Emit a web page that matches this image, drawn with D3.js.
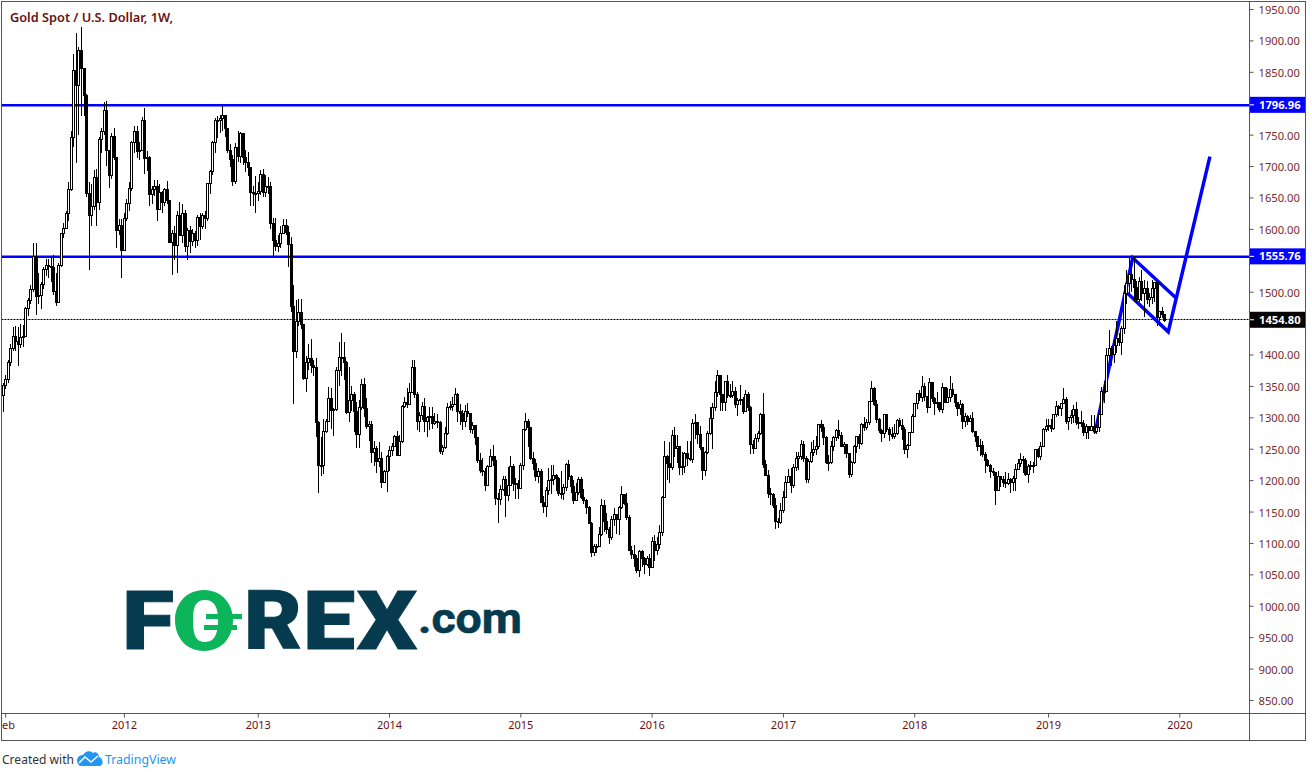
<!DOCTYPE html>
<html>
<head>
<meta charset="utf-8">
<title>Gold Spot / U.S. Dollar, 1W</title>
<script src="https://cdn.jsdelivr.net/npm/d3@7"></script>
<style>
  html, body { margin: 0; padding: 0; background: #fff; overflow: hidden; }
  svg { display: block; }
  .price-label { font: 11.2px "Noto Sans", sans-serif; fill: #7a2a2a; }
  .time-label { font: 11px "Noto Sans", sans-serif; fill: #6b1010; }
</style>
</head>
<body>
<svg id="chart" width="1312" height="777"></svg>
<script>
// Weekly candles. Week 0 is the bar of 31 Jan 2011.
const firstOpen = 1335;

const closes = [
  1350,1360,1388,1409,1429,1420,1416,1427,1429,1474,1486,1504,1556,1492,1494,1512,1536,1542,1540,1539,1500,1483,1542,1592,1601,1625,1663,1746,1852,1829,1884,1856,1813,1657,1622,1636,1682,1642,1742,1755,1788,1724,1685,1747,1713,1598,1605,1565,
  1617,1640,1665,1737,1755,1723,1725,1773,1712,1713,1655,1662,1668,1631,1658,1642,1663,1645,1579,1592,1573,1622,1590,1625,1572,1597,1580,1592,1582,1618,1603,1621,1616,1672,1691,1738,1772,1772,1776,1780,1759,1725,1710,1676,1730,1715,1752,1713,1705,1697,1658,1657,1656,
  1660,1687,1658,1667,1667,1609,1581,1572,1576,1592,1606,1595,1575,1476,1405,1453,1467,1447,1361,1387,1393,1383,1380,1292,1224,1223,1278,1293,1330,1311,1312,1374,1395,1396,1387,1308,1326,1337,1309,1272,1315,1352,1314,1285,1288,1244,1250,1230,1235,1197,1213,1237,
  1247,1254,1270,1240,1262,1318,1324,1321,1339,1379,1336,1294,1303,1318,1293,1300,1302,1290,1293,1292,1245,1252,1274,1316,1317,1320,1337,1310,1306,1294,1309,1306,1280,1287,1268,1231,1216,1214,1192,1222,1238,1231,1171,1169,1185,1201,1175,1191,1222,1195,1195,1187,
  1223,1280,1293,1283,1234,1227,1205,1213,1164,1158,1183,1199,1201,1207,1203,1179,1178,1188,1225,1206,1190,1168,1180,1201,1173,1168,1157,1131,1085,1095,1094,1113,1160,1134,1121,1108,1137,1145,1137,1156,1177,1163,1141,1088,1081,1076,1056,1086,1075,1065,1076,1061,
  1103,1088,1097,1117,1173,1238,1227,1220,1271,1250,1253,1220,1222,1243,1235,1233,1290,1291,1272,1252,1215,1244,1275,1298,1316,1340,1366,1337,1323,1357,1335,1335,1341,1320,1327,1328,1310,1337,1316,1257,1251,1267,1275,1304,1225,1208,1178,1177,1159,1134,1133,1152,
  1172,1196,1205,1191,1220,1234,1237,1257,1234,1201,1229,1244,1249,1254,1288,1284,1268,1228,1228,1254,1268,1279,1271,1253,1257,1242,1209,1228,1254,1269,1258,1289,1284,1291,1325,1346,1320,1297,1279,1274,1304,1280,1272,1269,1275,1295,1287,1281,1248,1255,1276,1302,
  1322,1338,1332,1349,1333,1315,1356,1330,1322,1324,1313,1347,1323,1332,1345,1336,1323,1314,1320,1293,1302,1294,1298,1278,1270,1254,1255,1241,1231,1223,1214,1212,1184,1206,1201,1196,1194,1201,1196,1203,1217,1226,1233,1232,1209,1222,1223,1223,1248,1238,1254,1280,1285,
  1287,1282,1304,1318,1314,1322,1328,1294,1299,1303,1313,1292,1291,1290,1276,1286,1279,1285,1277,1283,1305,1341,1341,1399,1409,1400,1415,1426,1419,1441,1497,1513,1527,1520,1507,1488,1517,1497,1505,1488,1490,1505,1514,1459,1468,1463,1454.8
];

const highs = [
  1355,1368,1391,1416,1444,1445,1444,1448,1447,1476,1490,1510,1577,1577,1530,1516,1540,1552,1552,1557,1558,1529,1545,1594,1610,1628,1675,1755,1878,1912,1890,1921,1830,1815,1675,1672,1693,1695,1746,1760,1802,1804,1724,1753,1761,1715,1615,1615,
  1625,1648,1675,1740,1764,1764,1738,1778,1792,1724,1716,1668,1678,1678,1672,1660,1665,1676,1645,1598,1605,1628,1642,1640,1630,1602,1605,1600,1596,1622,1625,1625,1628,1672,1694,1740,1776,1779,1781,1796,1769,1755,1735,1718,1737,1755,1754,1750,1725,1723,1697,1668,1684,
  1675,1694,1695,1685,1683,1675,1617,1618,1590,1605,1616,1615,1605,1587,1510,1487,1488,1488,1449,1398,1416,1424,1392,1395,1294,1268,1297,1298,1348,1347,1315,1380,1420,1434,1420,1390,1380,1350,1340,1325,1327,1361,1362,1330,1294,1294,1262,1254,1261,1245,1216,1240,
  1255,1259,1272,1279,1272,1319,1332,1346,1355,1392,1391,1340,1308,1325,1331,1302,1316,1316,1307,1306,1294,1256,1285,1322,1326,1332,1346,1339,1321,1312,1320,1322,1306,1293,1277,1269,1243,1235,1219,1224,1250,1256,1238,1180,1193,1207,1207,1221,1238,1225,1204,1200,
  1227,1282,1307,1298,1284,1245,1233,1219,1217,1175,1189,1220,1224,1224,1209,1205,1214,1194,1228,1232,1208,1200,1196,1205,1205,1186,1170,1159,1133,1098,1098,1126,1170,1168,1147,1125,1143,1156,1141,1159,1191,1178,1180,1144,1095,1097,1081,1088,1088,1078,1080,1082,
  1110,1112,1110,1128,1175,1263,1240,1261,1280,1284,1272,1255,1245,1244,1262,1263,1298,1306,1291,1286,1253,1247,1279,1316,1322,1358,1375,1360,1337,1358,1367,1353,1358,1349,1331,1352,1332,1344,1340,1318,1264,1274,1278,1307,1338,1232,1216,1187,1180,1172,1140,1163,
  1182,1207,1217,1220,1226,1245,1244,1264,1263,1238,1233,1261,1264,1270,1289,1295,1290,1270,1240,1262,1270,1281,1296,1277,1260,1257,1242,1230,1256,1270,1274,1291,1300,1298,1326,1358,1348,1327,1299,1281,1306,1306,1285,1284,1290,1298,1299,1298,1284,1258,1277,1306,
  1323,1338,1344,1366,1354,1334,1362,1357,1332,1340,1325,1355,1345,1347,1365,1354,1337,1323,1327,1322,1307,1304,1303,1309,1279,1262,1265,1262,1245,1234,1226,1220,1198,1214,1206,1207,1213,1211,1204,1207,1225,1233,1243,1238,1236,1226,1230,1229,1250,1251,1261,1283,1298,
  1298,1298,1306,1326,1319,1323,1347,1333,1300,1311,1320,1324,1301,1310,1296,1289,1286,1303,1304,1287,1306,1348,1358,1411,1439,1413,1425,1453,1434,1445,1510,1535,1555,1546,1557,1517,1524,1535,1519,1517,1498,1518,1516,1516,1470,1475,1465
];

const lows = [
  1308,1345,1355,1381,1405,1406,1382,1410,1412,1430,1462,1480,1500,1463,1480,1473,1505,1525,1522,1515,1495,1478,1482,1540,1585,1600,1612,1660,1730,1705,1750,1780,1780,1650,1535,1604,1630,1604,1630,1720,1750,1700,1665,1680,1710,1570,1590,1522,
  1592,1612,1628,1660,1720,1713,1709,1725,1688,1692,1636,1640,1652,1613,1640,1625,1636,1640,1578,1527,1550,1530,1588,1578,1563,1550,1562,1573,1569,1572,1582,1600,1600,1613,1656,1686,1720,1745,1752,1755,1746,1721,1698,1668,1672,1707,1705,1702,1690,1684,1636,1636,1625,
  1645,1654,1651,1650,1655,1600,1554,1565,1563,1570,1598,1590,1539,1467,1321,1395,1446,1441,1359,1340,1376,1371,1366,1269,1180,1207,1209,1275,1310,1282,1271,1310,1350,1366,1360,1306,1293,1310,1277,1251,1251,1311,1300,1282,1263,1227,1222,1211,1221,1187,1195,1181,
  1214,1238,1252,1238,1240,1259,1315,1315,1334,1338,1330,1280,1277,1296,1277,1268,1280,1281,1287,1283,1241,1240,1249,1272,1311,1310,1322,1292,1288,1280,1285,1300,1275,1273,1256,1228,1211,1207,1183,1190,1222,1222,1160,1131,1160,1182,1142,1167,1190,1183,1170,1170,
  1186,1216,1278,1252,1232,1216,1198,1195,1163,1147,1142,1177,1178,1192,1183,1175,1170,1169,1183,1201,1180,1162,1169,1176,1170,1162,1146,1130,1077,1080,1084,1094,1111,1117,1114,1098,1105,1127,1115,1113,1154,1161,1137,1087,1074,1062,1052,1046,1062,1050,1064,1047,
  1074,1071,1081,1091,1111,1171,1200,1196,1216,1237,1228,1208,1208,1211,1223,1230,1228,1266,1258,1248,1200,1207,1241,1272,1250,1310,1333,1310,1310,1310,1330,1330,1331,1315,1302,1320,1305,1309,1310,1241,1242,1252,1260,1272,1219,1206,1171,1160,1156,1122,1124,1130,
  1147,1172,1195,1180,1187,1215,1216,1232,1229,1195,1195,1228,1238,1240,1250,1276,1256,1226,1214,1225,1246,1262,1265,1252,1241,1236,1204,1205,1226,1243,1250,1256,1279,1280,1288,1324,1318,1291,1275,1260,1267,1276,1263,1265,1266,1272,1284,1264,1241,1236,1254,1275,
  1301,1313,1326,1325,1326,1307,1315,1325,1303,1315,1309,1307,1322,1322,1325,1333,1316,1302,1303,1282,1284,1288,1293,1275,1261,1246,1238,1237,1211,1221,1204,1207,1160,1184,1189,1189,1187,1193,1180,1182,1183,1219,1221,1212,1206,1196,1216,1212,1222,1236,1232,1256,1276,
  1279,1276,1280,1301,1302,1302,1322,1290,1280,1290,1291,1287,1281,1285,1270,1266,1266,1278,1274,1273,1276,1304,1323,1340,1382,1381,1386,1402,1413,1400,1433,1480,1492,1500,1484,1484,1484,1485,1459,1480,1476,1480,1484,1446,1445,1458,1451
];

// Axis ticks, the tags take the place of 1450, 1550 and 1800
const priceTicks = [850, 900, 950, 1000, 1050, 1100, 1150, 1200, 1250, 1300, 1350, 1400, 1500, 1600, 1650, 1700, 1750, 1850, 1900, 1950];
const timeTickWeeks = [1, 48, 101, 153, 205, 257, 309, 361, 414, 466];
const timeTickLabels = ["Feb", "2012", "2013", "2014", "2015", "2016", "2017", "2018", "2019", "2020"];

// Horizontal levels and the hand drawn flag
const levels = [1796.96, 1555.76];
const lastPrice = 1454.8;
const flagTopWeeks = [432.6, 447.5, 464.7];
const flagTopPrices = [1275, 1554, 1490];
const flagBottomWeeks = [445.5, 461.6, 478.1];
const flagBottomPrices = [1497.6, 1436, 1715];

const frame = { left: 1.5, top: 1.5, right: 1305.5, bottom: 740.5, axisX: 1249.5, axisY: 713.5 };
const frameColor = "#555";
const lineBlue = "#0000ff";
const isUp = closes.map((c, i) => c >= (i ? closes[i - 1] : firstOpen));

const svg = d3.select("#chart");
const x = d3.scaleLinear().domain([0, 460]).range([2.7, 1164.2]);
const y = d3.scaleLinear().domain([850, 1950]).range([700, 9]);

// Clips for the plot pane and the time axis
svg.append("clipPath").attr("id", "pane").append("rect")
  .attr("x", frame.left).attr("y", frame.top)
  .attr("width", frame.axisX - frame.left).attr("height", frame.axisY - frame.top);
svg.append("clipPath").attr("id", "timeClip").append("rect")
  .attr("x", 2).attr("y", 0)
  .attr("width", frame.axisX - 2).attr("height", frame.bottom - frame.axisY);
const pane = svg.append("g").attr("clip-path", "url(#pane)");

// Levels and flag sit under the candles
pane.selectAll(".level").data(levels).join("line")
  .attr("class", "level")
  .attr("x1", frame.left).attr("x2", frame.axisX)
  .attr("y1", d => y(d)).attr("y2", d => y(d))
  .attr("stroke", lineBlue).attr("stroke-width", 2.5);

const flagLine = d3.line().x(d => x(d[0])).y(d => y(d[1]));
[[flagTopWeeks, flagTopPrices], [flagBottomWeeks, flagBottomPrices]].forEach(([w, p]) => {
  pane.append("path")
    .attr("d", flagLine(d3.zip(w, p)))
    .attr("fill", "none")
    .attr("stroke", lineBlue)
    .attr("stroke-width", 3.5);
});

// Last price dotted line
const lastY = Math.floor(y(lastPrice)) - 0.5;
pane.append("line")
  .attr("x1", frame.left).attr("x2", frame.axisX)
  .attr("y1", lastY).attr("y2", lastY)
  .attr("stroke", "#000").attr("stroke-dasharray", "2 1");

// Candles
const candle = pane.append("g").attr("shape-rendering", "crispEdges")
  .selectAll("g").data(closes).join("g")
  .attr("transform", (d, i) => `translate(${Math.round(x(i)) + 0.5},0)`);

candle.append("line")
  .attr("y1", (d, i) => y(Math.max(highs[i], d)))
  .attr("y2", (d, i) => y(Math.min(lows[i], d)))
  .attr("stroke", "#000");

candle.append("rect")
  .attr("x", -1).attr("width", 2)
  .attr("y", (d, i) => y(Math.max(d, i ? closes[i - 1] : firstOpen)))
  .attr("height", (d, i) => Math.max(1, Math.abs(y(d) - y(i ? closes[i - 1] : firstOpen))))
  .attr("fill", (d, i) => isUp[i] ? "#fff" : "#000")
  .attr("stroke", "#000");

// Logo
const logo = svg.append("g");
const logoDark = "#063b4f", logoGreen = "#0cb45a";
[["F", 122, 52], ["R", 244, 58], ["E", 303, 52], ["X", 357, 60]].forEach(([t, lx, lw]) => {
  logo.append("text").text(t)
    .attr("x", lx).attr("y", 649)
    .attr("textLength", lw).attr("lengthAdjust", "spacingAndGlyphs")
    .style("font", "900 82px Roboto, sans-serif")
    .style("fill", logoDark)
    .style("stroke", logoDark).style("stroke-width", 1);
});
logo.append("path")
  .attr("fill-rule", "evenodd").attr("fill", logoGreen)
  .attr("d", "M204 590 C186 590 175 604 175 620 C175 637 186 651 204 651 C222 651 233 637 233 620 C233 604 222 590 204 590 Z M205 600 C215 600 218 608 218 620 C218 633 215 642 205 642 C195 642 193 633 193 620 C193 608 195 600 205 600 Z");
logo.append("rect").attr("x", 206).attr("y", 614).attr("width", 36).attr("height", 5).attr("fill", logoGreen);
logo.append("rect").attr("x", 204).attr("y", 625).attr("width", 33).attr("height", 5).attr("fill", logoGreen);
logo.append("text").text(".com")
  .attr("x", 418).attr("y", 633)
  .attr("textLength", 104).attr("lengthAdjust", "spacingAndGlyphs")
  .style("font", "700 43px Roboto, sans-serif")
  .style("fill", logoDark)
  .style("stroke", logoDark).style("stroke-width", 0.6);

// Frame
svg.append("g").attr("fill", "none").attr("stroke", frameColor).attr("shape-rendering", "crispEdges")
  .call(g => g.append("rect")
    .attr("x", frame.left).attr("y", frame.top)
    .attr("width", frame.right - frame.left).attr("height", frame.bottom - frame.top))
  .call(g => g.append("path")
    .attr("d", `M${frame.axisX},${frame.top}V${frame.bottom}M${frame.left},${frame.axisY}H${frame.right}`));

// Price axis
const yAxis = d3.axisRight(y).tickValues(priceTicks).tickFormat(d3.format(".2f")).tickSize(4).tickPadding(5);
svg.append("g")
  .attr("transform", `translate(${frame.axisX},0)`)
  .call(yAxis)
  .call(g => g.select(".domain").remove())
  .call(g => g.selectAll("line").attr("stroke", frameColor))
  .call(g => g.selectAll("text").attr("class", "price-label").attr("dy", "0.4em"));

// Time axis, the first label is cut by the frame
const xAxis = d3.axisBottom(x).tickValues(timeTickWeeks)
  .tickFormat((d, i) => timeTickLabels[i]).tickSize(4).tickPadding(4);
svg.append("g")
  .attr("transform", `translate(0,${frame.axisY})`)
  .attr("clip-path", "url(#timeClip)")
  .call(xAxis)
  .call(g => g.select(".domain").remove())
  .call(g => g.selectAll("line").attr("stroke", frameColor))
  .call(g => g.selectAll("text").attr("class", "time-label"));

// Price tags
const tagData = [
  { price: levels[0], color: lineBlue },
  { price: levels[1], color: lineBlue },
  { price: lastPrice, color: "#000" }
];
const tags = svg.append("g").selectAll("g").data(tagData).join("g")
  .attr("transform", d => `translate(${frame.axisX + 0.5},${y(d.price) - 0.3})`);
tags.append("rect")
  .attr("x", 0).attr("y", -8).attr("width", frame.right - frame.axisX - 1).attr("height", 16)
  .attr("fill", d => d.color);
tags.append("line").attr("x1", 0).attr("x2", 4).attr("stroke", "#fff");
tags.append("text")
  .attr("x", 9).attr("dy", "0.36em")
  .text(d => d3.format(".2f")(d.price))
  .style("font", "700 11.2px 'Noto Sans', sans-serif").style("fill", "#fff");

// Title
svg.append("text").text("Gold Spot / U.S. Dollar, 1W,")
  .attr("x", 10).attr("y", 22)
  .attr("textLength", 163).attr("lengthAdjust", "spacingAndGlyphs")
  .style("font", "600 12.5px 'Noto Sans', sans-serif").style("fill", "#6b1010");

// Footer
svg.append("text").text("Created with")
  .attr("x", 2).attr("y", 764)
  .attr("textLength", 72).attr("lengthAdjust", "spacingAndGlyphs")
  .style("font", "13px 'Noto Sans', sans-serif").style("fill", "#333");
svg.append("path")
  .attr("fill", "#2196f3")
  .attr("d", "M77 761 C77 757 80 755 83 755 C85 751 90 750 93 753 C96 751 99 754 99 757 C103 758 104 765 100 766 L81 766 C79 766 77 763 77 761 Z");
svg.append("path")
  .attr("fill", "none").attr("stroke", "#fff").attr("stroke-width", 1.5)
  .attr("d", "M79 763 L85 757 L91 762 L98 756");
svg.append("text").text("TradingView")
  .attr("x", 105).attr("y", 764)
  .attr("textLength", 71).attr("lengthAdjust", "spacingAndGlyphs")
  .style("font", "13px 'Noto Sans', sans-serif").style("fill", "#2196f3");
</script>
</body>
</html>
